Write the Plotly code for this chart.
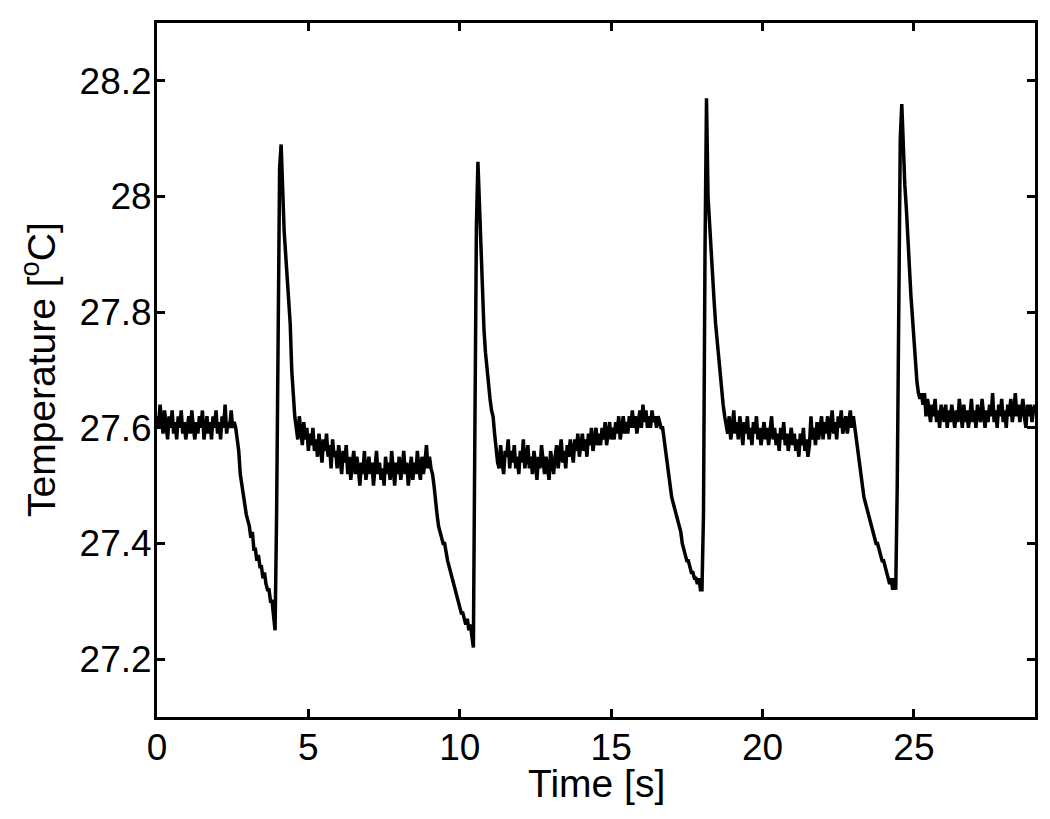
import plotly.graph_objects as go

# temperature trace, one value every 0.05 s from 0 to 29 s
temp_c = [
    # 0.00 - 2.55 baseline
    27.62, 27.60, 27.64, 27.61, 27.59, 27.63, 27.60, 27.58, 27.62, 27.60,
    27.63, 27.59, 27.61, 27.58, 27.62, 27.60, 27.63, 27.59, 27.61, 27.58,
    27.60, 27.62, 27.59, 27.63, 27.60, 27.58, 27.61, 27.59, 27.62, 27.60,
    27.63, 27.58, 27.60, 27.62, 27.59, 27.61, 27.58, 27.62, 27.60, 27.63,
    27.59, 27.61, 27.58, 27.62, 27.60, 27.64, 27.59, 27.61, 27.60, 27.63,
    27.60, 27.61,
    # 2.60 - 3.90 cooling
    27.60, 27.58, 27.56, 27.52, 27.50, 27.49, 27.47, 27.45, 27.44, 27.43,
    27.41, 27.42, 27.39, 27.39, 27.37, 27.38, 27.36, 27.36, 27.34, 27.35,
    27.33, 27.32, 27.32, 27.30, 27.30, 27.27, 27.25,
    # 3.95 - 4.60 pulse
    27.45, 27.80, 28.05, 28.09, 28.00, 27.94, 27.90, 27.86, 27.83, 27.78,
    27.70, 27.65, 27.62, 27.60,
    # 4.65 - 9.05 plateau
    27.58, 27.62, 27.60, 27.57, 27.61, 27.58, 27.60, 27.56, 27.59, 27.57,
    27.60, 27.56, 27.58, 27.55, 27.59, 27.57, 27.54, 27.58, 27.56, 27.59,
    27.55, 27.57, 27.53, 27.58, 27.55, 27.56, 27.53, 27.57, 27.54, 27.52,
    27.56, 27.54, 27.57, 27.52, 27.55, 27.51, 27.54, 27.56, 27.52, 27.55,
    27.53, 27.50, 27.54, 27.52, 27.56, 27.51, 27.53, 27.55, 27.52, 27.54,
    27.50, 27.53, 27.56, 27.52, 27.54, 27.51, 27.53, 27.50, 27.55, 27.52,
    27.54, 27.51, 27.56, 27.53, 27.50, 27.54, 27.52, 27.55, 27.51, 27.53,
    27.56, 27.52, 27.54, 27.50, 27.53, 27.55, 27.51, 27.54, 27.52, 27.56,
    27.53, 27.51, 27.55, 27.52, 27.54, 27.57, 27.53, 27.55, 27.53,
    # 9.10 - 10.45 cooling
    27.52, 27.50, 27.47, 27.45, 27.43, 27.42, 27.41, 27.40, 27.40, 27.38,
    27.37, 27.36, 27.35, 27.34, 27.33, 27.32, 27.31, 27.30, 27.29, 27.28,
    27.28, 27.27, 27.26, 27.27, 27.25, 27.26, 27.24, 27.22,
    # 10.50 - 11.25 pulse
    27.60, 27.95, 28.06, 27.98, 27.90, 27.83, 27.77, 27.73, 27.70, 27.67,
    27.65, 27.63, 27.62, 27.59, 27.56, 27.54,
    # 11.30 - 16.65 plateau, slow rise
    27.53, 27.57, 27.54, 27.52, 27.56, 27.55, 27.58, 27.53, 27.56, 27.54,
    27.57, 27.53, 27.55, 27.52, 27.56, 27.54, 27.58, 27.53, 27.55, 27.57,
    27.53, 27.55, 27.52, 27.56, 27.54, 27.51, 27.55, 27.53, 27.57, 27.54,
    27.52, 27.55, 27.53, 27.51, 27.56, 27.54, 27.52, 27.55, 27.57, 27.53,
    27.55, 27.58, 27.54, 27.56, 27.53, 27.57, 27.55, 27.58, 27.56, 27.54,
    27.58, 27.56, 27.59, 27.55, 27.57, 27.59, 27.56, 27.58, 27.55, 27.59,
    27.57, 27.60, 27.56, 27.58, 27.60, 27.57, 27.59, 27.57, 27.60, 27.58,
    27.61, 27.57, 27.59, 27.61, 27.58, 27.60, 27.58, 27.61, 27.59, 27.62,
    27.58, 27.60, 27.62, 27.59, 27.61, 27.59, 27.62, 27.60, 27.63, 27.60,
    27.62, 27.59, 27.61, 27.63, 27.60, 27.64, 27.61, 27.63, 27.60, 27.62,
    27.60, 27.63, 27.61, 27.62, 27.60, 27.62, 27.61, 27.60,
    # 16.70 - 18.00 cooling
    27.60, 27.58, 27.56, 27.54, 27.52, 27.49, 27.48, 27.47, 27.46, 27.45,
    27.44, 27.43, 27.42, 27.40, 27.39, 27.38, 27.37, 27.37, 27.36, 27.35,
    27.35, 27.34, 27.34, 27.33, 27.34, 27.32, 27.32,
    # 18.05 - 18.85 pulse
    27.45, 27.90, 28.17, 28.00, 27.95, 27.90, 27.86, 27.82, 27.78, 27.75,
    27.72, 27.69, 27.67, 27.64, 27.62, 27.60, 27.59,
    # 18.90 - 23.05 plateau
    27.62, 27.58, 27.60, 27.63, 27.59, 27.61, 27.58, 27.62, 27.60, 27.57,
    27.61, 27.59, 27.62, 27.58, 27.60, 27.57, 27.61, 27.59, 27.62, 27.58,
    27.60, 27.57, 27.59, 27.61, 27.58, 27.60, 27.57, 27.59, 27.62, 27.58,
    27.60, 27.57, 27.59, 27.56, 27.60, 27.58, 27.61, 27.57, 27.59, 27.56,
    27.58, 27.60, 27.57, 27.59, 27.56, 27.58, 27.55, 27.59, 27.57, 27.60,
    27.56, 27.58, 27.55, 27.57, 27.62, 27.58, 27.60, 27.57, 27.61, 27.58,
    27.60, 27.62, 27.58, 27.61, 27.59, 27.62, 27.58, 27.60, 27.63, 27.59,
    27.61, 27.58, 27.62, 27.60, 27.63, 27.59, 27.61, 27.62, 27.59, 27.61,
    27.63, 27.60, 27.62, 27.60,
    # 23.10 - 24.40 cooling
    27.58, 27.55, 27.53, 27.51, 27.50, 27.48, 27.47, 27.46, 27.45, 27.44,
    27.43, 27.42, 27.41, 27.40, 27.40, 27.39, 27.38, 27.37, 27.37, 27.36,
    27.35, 27.34, 27.33, 27.34, 27.32, 27.34, 27.32,
    # 24.45 - 25.25 pulse
    27.50, 27.90, 28.10, 28.16, 28.08, 28.02, 27.98, 27.94, 27.88, 27.83,
    27.79, 27.75, 27.71, 27.68, 27.66, 27.65, 27.66,
    # 25.30 - 29.00 plateau
    27.64, 27.66, 27.62, 27.65, 27.63, 27.61, 27.64, 27.62, 27.65, 27.61,
    27.63, 27.60, 27.64, 27.62, 27.61, 27.64, 27.60, 27.63, 27.61, 27.64,
    27.62, 27.60, 27.63, 27.61, 27.65, 27.62, 27.60, 27.64, 27.61, 27.63,
    27.60, 27.62, 27.65, 27.61, 27.63, 27.60, 27.64, 27.62, 27.61, 27.65,
    27.62, 27.60, 27.63, 27.61, 27.64, 27.62, 27.66, 27.61, 27.63, 27.60,
    27.64, 27.62, 27.65, 27.61, 27.63, 27.60, 27.64, 27.62, 27.65, 27.61,
    27.63, 27.66, 27.62, 27.64, 27.61, 27.63, 27.65, 27.62, 27.60, 27.64,
    27.62, 27.64, 27.61, 27.63, 27.64,
]

# sample times (0.05 s spacing)
time_s = [round(i * 0.05, 2) for i in range(len(temp_c))]

x_ticks = [0, 5, 10, 15, 20, 25]
y_ticks = [27.2, 27.4, 27.6, 27.8, 28.0, 28.2]
y_tick_text = ["27.2", "27.4", "27.6", "27.8", "28", "28.2"]

FONT = "Liberation Sans, Arial"

fig = go.Figure()
fig.add_trace(go.Scatter(x=time_s, y=temp_c, mode="lines",
                         line=dict(color="black", width=3.5), showlegend=False))

axis_style = dict(
    showline=True, linecolor="black", linewidth=3, mirror="allticks",
    ticks="inside", ticklen=8, tickwidth=3, tickcolor="black",
    showgrid=False, zeroline=False,
    tickfont=dict(family=FONT, size=37, color="black"),
)

fig.update_xaxes(range=[0, 29], tickvals=x_ticks, ticklabelstandoff=-4, **axis_style)
fig.update_yaxes(range=[27.1, 28.3], tickvals=y_ticks, ticktext=y_tick_text,
                 ticklabelstandoff=-5, **axis_style)

# axis titles as annotations for exact placement
fig.add_annotation(text="Time [s]", xref="paper", yref="paper", x=0.5, y=0,
                   xanchor="center", yanchor="middle", yshift=-66, showarrow=False,
                   font=dict(family=FONT, size=39, color="black"))
fig.add_annotation(text="Temperature [<sup>o</sup>C]", xref="paper", yref="paper",
                   x=0, y=0.5, xanchor="center", yanchor="middle", xshift=-119,
                   textangle=-90, showarrow=False,
                   font=dict(family=FONT, size=39, color="black"))

# page body adds an 8 px offset, margins below account for it
fig.update_layout(
    width=1034, height=803,
    margin=dict(l=149, r=4, t=15, b=94),
    plot_bgcolor="white", paper_bgcolor="white",
)

fig.write_html("out.html")
